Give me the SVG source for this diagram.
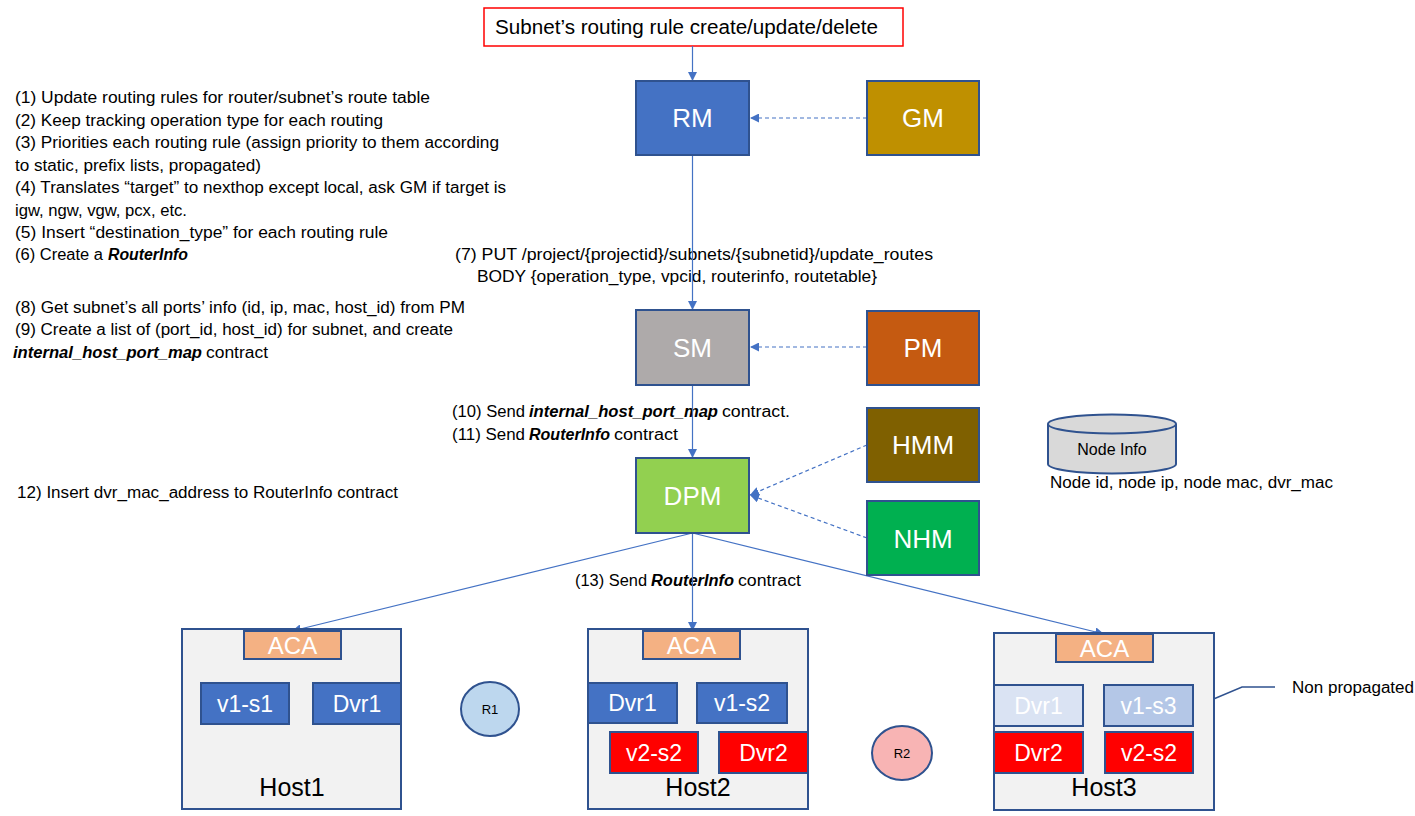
<svg xmlns="http://www.w3.org/2000/svg" width="1415" height="816" viewBox="0 0 1415 816">
<defs>
<marker id="ah" viewBox="0 0 10 10" refX="10" refY="5" markerWidth="9" markerHeight="9" markerUnits="userSpaceOnUse" orient="auto"><path d="M0,0 L10,5 L0,10 z" fill="#4472C4"/></marker>
<style>
text{font-family:"Liberation Sans",Arial,sans-serif;}
.t{font-size:16px;fill:#000;}
.bi{font-weight:bold;font-style:italic;}
.box{stroke:#2F528F;stroke-width:2;}
.lbl{font-size:26px;fill:#fff;text-anchor:middle;}
.aca{font-size:24px;fill:#fff;text-anchor:middle;}
.sub{font-size:23px;fill:#fff;text-anchor:middle;}
.host{fill:#F2F2F2;stroke:#2F528F;stroke-width:2;}
.hl{font-size:25px;fill:#000;text-anchor:middle;}
.ln{stroke:#4472C4;stroke-width:1.2;fill:none;}
.dash{stroke:#4472C4;stroke-width:1.2;fill:none;stroke-dasharray:4,3;}
</style>
</defs>
<rect width="1415" height="816" fill="#fff"/>

<g id="title">
<rect x="484" y="8" width="419" height="38" fill="#fff" stroke="#FF0000" stroke-width="1.5"/>
<text x="495" y="34" font-size="20" textLength="383" lengthAdjust="spacingAndGlyphs">Subnet’s routing rule create/update/delete</text>
</g>

<g id="notes">
<text class="t" x="15" y="103" textLength="415" lengthAdjust="spacingAndGlyphs">(1) Update routing rules for router/subnet’s route table</text>
<text class="t" x="15" y="126" textLength="368" lengthAdjust="spacingAndGlyphs">(2) Keep tracking operation type for each routing</text>
<text class="t" x="15" y="148" textLength="484" lengthAdjust="spacingAndGlyphs">(3) Priorities each routing rule (assign priority to them according</text>
<text class="t" x="15" y="171" textLength="246" lengthAdjust="spacingAndGlyphs">to static, prefix lists, propagated)</text>
<text class="t" x="15" y="193" textLength="491" lengthAdjust="spacingAndGlyphs">(4) Translates “target” to nexthop except local, ask GM if target is</text>
<text class="t" x="15" y="216" textLength="172" lengthAdjust="spacingAndGlyphs">igw, ngw, vgw, pcx, etc.</text>
<text class="t" x="15" y="238" textLength="373" lengthAdjust="spacingAndGlyphs">(5) Insert “destination_type” for each routing rule</text>
<text class="t" y="260"><tspan x="15" textLength="88" lengthAdjust="spacingAndGlyphs">(6) Create a</tspan><tspan class="bi" x="108" textLength="80" lengthAdjust="spacingAndGlyphs">RouterInfo</tspan></text>
<text class="t" x="455" y="260" textLength="478" lengthAdjust="spacingAndGlyphs">(7) PUT /project/{projectid}/subnets/{subnetid}/update_routes</text>
<text class="t" x="477" y="282" textLength="400" lengthAdjust="spacingAndGlyphs">BODY {operation_type, vpcid, routerinfo, routetable}</text>
<text class="t" x="15" y="313" textLength="450" lengthAdjust="spacingAndGlyphs">(8) Get subnet’s all ports’ info (id, ip, mac, host_id) from PM</text>
<text class="t" x="15" y="335" textLength="438" lengthAdjust="spacingAndGlyphs">(9) Create a list of (port_id, host_id) for subnet, and create</text>
<text class="t" y="358"><tspan class="bi" x="13" textLength="189" lengthAdjust="spacingAndGlyphs">internal_host_port_map</tspan><tspan x="206" textLength="62" lengthAdjust="spacingAndGlyphs">contract</tspan></text>
<text class="t" y="417"><tspan x="452" textLength="73" lengthAdjust="spacingAndGlyphs">(10) Send</tspan><tspan class="bi" x="529" textLength="189" lengthAdjust="spacingAndGlyphs">internal_host_port_map</tspan><tspan x="722" textLength="68" lengthAdjust="spacingAndGlyphs">contract.</tspan></text>
<text class="t" y="440"><tspan x="452" textLength="73" lengthAdjust="spacingAndGlyphs">(11) Send</tspan><tspan class="bi" x="529" textLength="81" lengthAdjust="spacingAndGlyphs">RouterInfo</tspan><tspan x="614" textLength="64" lengthAdjust="spacingAndGlyphs">contract</tspan></text>
<text class="t" x="17" y="498" textLength="381" lengthAdjust="spacingAndGlyphs">12) Insert dvr_mac_address to RouterInfo contract</text>
<text class="t" y="586"><tspan x="575" textLength="72" lengthAdjust="spacingAndGlyphs">(13) Send</tspan><tspan class="bi" x="651" textLength="83" lengthAdjust="spacingAndGlyphs">RouterInfo</tspan><tspan x="738" textLength="63" lengthAdjust="spacingAndGlyphs">contract</tspan></text>
</g>

<g id="connectors">
<line class="ln" x1="692.5" y1="46" x2="692.5" y2="81" marker-end="url(#ah)"/>
<line class="dash" x1="867" y1="118" x2="750" y2="118" marker-end="url(#ah)"/>
<line class="ln" x1="692.5" y1="155" x2="692.5" y2="310" marker-end="url(#ah)"/>
<line class="dash" x1="867" y1="347" x2="750" y2="347" marker-end="url(#ah)"/>
<line class="ln" x1="692.5" y1="385" x2="692.5" y2="458" marker-end="url(#ah)"/>
<line class="dash" x1="867" y1="445" x2="750" y2="495" marker-end="url(#ah)"/>
<line class="dash" x1="867" y1="538" x2="750" y2="495" marker-end="url(#ah)"/>
<line class="ln" x1="692.5" y1="533" x2="292" y2="631" marker-end="url(#ah)"/>
<line class="ln" x1="692.5" y1="533" x2="692.5" y2="631" marker-end="url(#ah)"/>
<line class="ln" x1="692.5" y1="533" x2="1104" y2="634" marker-end="url(#ah)"/>
<polyline points="1197,706 1242,687 1275,687" fill="none" stroke="#2F528F" stroke-width="1.5"/>
</g>

<g id="RM"><rect class="box" x="636" y="81" width="113" height="74" fill="#4472C4"/><text class="lbl" x="692.5" y="127">RM</text></g>
<g id="GM"><rect class="box" x="867" y="81" width="112" height="74" fill="#BF9000"/><text class="lbl" x="923" y="127">GM</text></g>
<g id="SM"><rect class="box" x="636" y="310" width="113" height="75" fill="#AEAAAA"/><text class="lbl" x="692.5" y="357">SM</text></g>
<g id="PM"><rect class="box" x="867" y="311" width="112" height="74" fill="#C55A11"/><text class="lbl" x="923" y="357">PM</text></g>
<g id="DPM"><rect class="box" x="636" y="458" width="113" height="75" fill="#92D050"/><text class="lbl" x="692.5" y="505">DPM</text></g>
<g id="HMM"><rect class="box" x="867" y="408" width="112" height="74" fill="#7F6000"/><text class="lbl" x="923" y="454">HMM</text></g>
<g id="NHM"><rect class="box" x="867" y="501" width="112" height="74" fill="#00B050"/><text class="lbl" x="923" y="548">NHM</text></g>

<g id="NodeInfo">
<path d="M1048,424 L1048,464 A64,9.5 0 0 0 1176,464 L1176,424" fill="#D9D9D9" stroke="#2F528F" stroke-width="2"/>
<ellipse cx="1112" cy="424" rx="64" ry="9.5" fill="#D9D9D9" stroke="#2F528F" stroke-width="2"/>
<text x="1112" y="455" font-size="16" text-anchor="middle" fill="#000">Node Info</text>
<text x="1050" y="488" font-size="16" fill="#000" textLength="283" lengthAdjust="spacingAndGlyphs">Node id, node ip, node mac, dvr_mac</text>
</g>

<g id="Host1">
<rect class="host" x="182" y="629" width="219" height="180"/>
<rect class="box" x="244" y="631" width="97" height="28" fill="#F4B183"/><text class="aca" x="292.5" y="654">ACA</text>
<rect class="box" x="201" y="683" width="88" height="41" fill="#4472C4"/><text class="sub" x="245" y="712">v1-s1</text>
<rect class="box" x="313" y="683" width="88" height="41" fill="#4472C4"/><text class="sub" x="357" y="712">Dvr1</text>
<text class="hl" x="292" y="796">Host1</text>
</g>

<g id="R1"><ellipse cx="490" cy="709" rx="29" ry="27" fill="#BDD7EE" stroke="#2F528F" stroke-width="2"/><text x="490" y="714" font-size="13" text-anchor="middle" fill="#000">R1</text></g>

<g id="Host2">
<rect class="host" x="588" y="629" width="220" height="180"/>
<rect class="box" x="643" y="631" width="97" height="28" fill="#F4B183"/><text class="aca" x="691.5" y="654">ACA</text>
<rect class="box" x="588" y="683" width="89" height="40" fill="#4472C4"/><text class="sub" x="632.5" y="711">Dvr1</text>
<rect class="box" x="697" y="683" width="90" height="40" fill="#4472C4"/><text class="sub" x="742" y="711">v1-s2</text>
<rect class="box" x="610" y="732" width="88" height="41" fill="#FF0000"/><text class="sub" x="654" y="761">v2-s2</text>
<rect class="box" x="719" y="732" width="89" height="41" fill="#FF0000"/><text class="sub" x="763.5" y="761">Dvr2</text>
<text class="hl" x="698" y="796">Host2</text>
</g>

<g id="R2"><ellipse cx="902" cy="753" rx="30" ry="27" fill="#F8B4B4" stroke="#2F528F" stroke-width="2"/><text x="902" y="758" font-size="13" text-anchor="middle" fill="#000">R2</text></g>

<g id="Host3">
<rect class="host" x="994" y="633" width="220" height="177"/>
<rect class="box" x="1056" y="634" width="97" height="28" fill="#F4B183"/><text class="aca" x="1104.5" y="657">ACA</text>
<rect class="box" x="994" y="685" width="89" height="41" fill="#DAE3F3"/><text class="sub" x="1038.5" y="714">Dvr1</text>
<rect class="box" x="1104" y="685" width="89" height="41" fill="#B4C7E7"/><text class="sub" x="1148.5" y="714">v1-s3</text>
<rect class="box" x="994" y="732" width="89" height="41" fill="#FF0000"/><text class="sub" x="1038.5" y="761">Dvr2</text>
<rect class="box" x="1105" y="732" width="88" height="41" fill="#FF0000"/><text class="sub" x="1149" y="761">v2-s2</text>
<text class="hl" x="1104" y="796">Host3</text>
</g>

<g id="note-nonprop"><text x="1292" y="693" font-size="16" fill="#000" textLength="122" lengthAdjust="spacingAndGlyphs">Non propagated</text></g>
</svg>
